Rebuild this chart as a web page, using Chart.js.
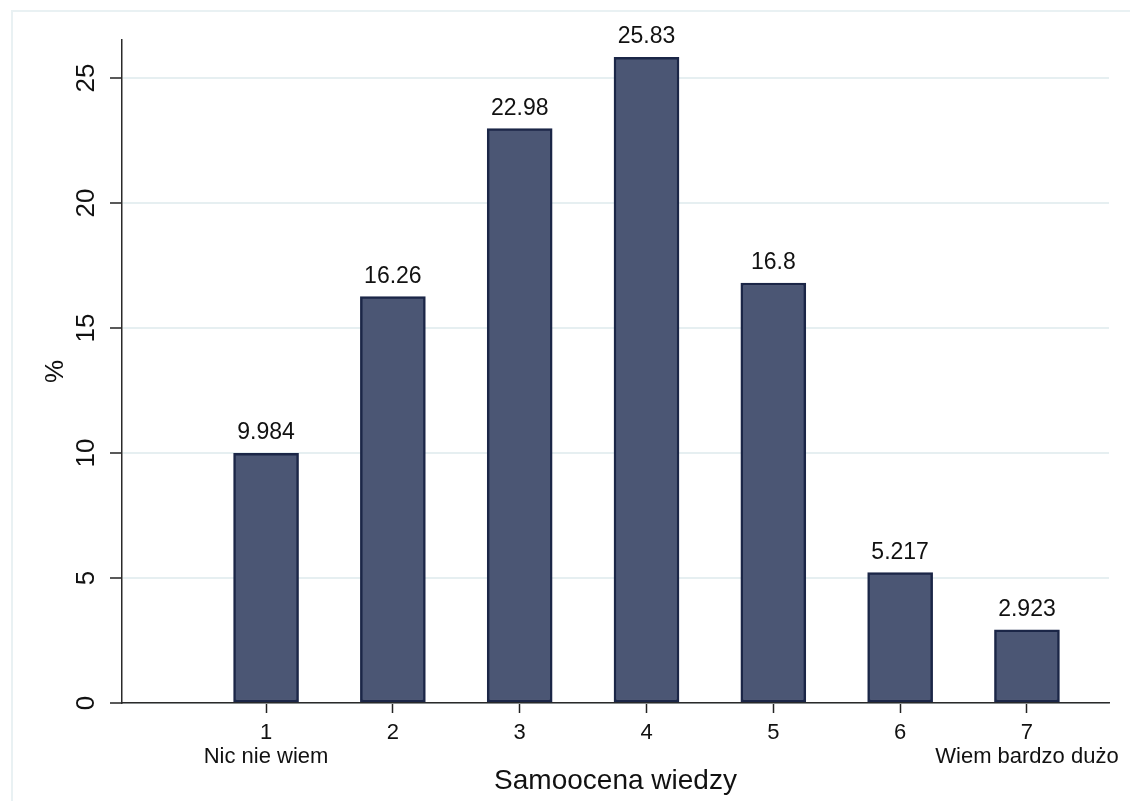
<!DOCTYPE html>
<html>
<head>
<meta charset="utf-8">
<script src="https://cdn.jsdelivr.net/npm/chart.js@4/dist/chart.umd.min.js"></script>
<style>
  html, body { margin: 0; padding: 0; background: #fff; overflow: hidden; }
  #wrap { position: relative; width: 1130px; height: 801px; }
  #frame { position: absolute; left: 11px; top: 10px; width: 1200px; height: 900px; border: 2px solid #e9f1f3; box-sizing: border-box; }
  canvas { position: absolute; left: 0; top: 0; }
</style>
</head>
<body>
<div id="wrap">
  <div id="frame"></div>
  <canvas id="chart" width="1130" height="801"></canvas>
</div>
<script>
// data
const categories = [1, 2, 3, 4, 5, 6, 7];
const percentages = [9.984, 16.26, 22.98, 25.83, 16.8, 5.217, 2.923];
const endLabels = ['Nic nie wiem', '', '', '', '', '', 'Wiem bardzo dużo'];
const yTicks = [0, 5, 10, 15, 20, 25];

const FONT = "'Liberation Sans', Arial, sans-serif";

// value labels above each bar
const valueLabels = {
  id: 'valueLabels',
  afterDatasetsDraw(chart) {
    const ctx = chart.ctx;
    const meta = chart.getDatasetMeta(0);
    ctx.save();
    ctx.font = '23px ' + FONT;
    ctx.fillStyle = '#111';
    ctx.textAlign = 'center';
    ctx.textBaseline = 'alphabetic';
    meta.data.forEach((bar, i) => {
      ctx.fillText(String(percentages[i]), bar.x, bar.y - 14);
    });
    ctx.restore();
  }
};

const ctx = document.getElementById('chart').getContext('2d');

new Chart(ctx, {
  type: 'bar',
  data: {
    datasets: [{
      data: categories.map((c, i) => ({ x: c, y: percentages[i] })),
      backgroundColor: '#4b5674',
      borderColor: '#1b2647',
      borderWidth: 2.5,
      borderSkipped: false,
      barThickness: 65
    }]
  },
  options: {
    responsive: false,
    animation: false,
    layout: { padding: { top: 40, right: 21, left: 0, bottom: 0 } },
    plugins: {
      legend: { display: false },
      tooltip: { enabled: false }
    },
    scales: {
      x: {
        type: 'linear',
        min: -0.136,
        max: 7.647,
        offset: false,
        afterBuildTicks: (scale) => {
          scale.ticks = categories.map(v => ({ value: v }));
        },
        afterFit: (scale) => { scale.height = 98; },
        grid: {
          offset: false,
          drawOnChartArea: false,
          drawTicks: true,
          tickLength: 10,
          tickColor: '#222',
          tickWidth: 1.5
        },
        border: { display: true, color: '#2a2a2a', width: 1.5 },
        ticks: {
          color: '#111',
          padding: 8,
          maxRotation: 0,
          autoSkip: false,
          font: { family: FONT, size: 22, lineHeight: 1.1 },
          callback: (value) => {
            const i = categories.indexOf(value);
            if (i < 0) return '';
            return endLabels[i] ? [String(value), endLabels[i]] : String(value);
          }
        },
        title: {
          display: true,
          text: 'Samoocena wiedzy',
          color: '#111',
          font: { family: FONT, size: 28 },
          padding: { top: 0, bottom: 3 }
        }
      },
      y: {
        min: 0,
        max: 26.52,
        afterBuildTicks: (scale) => {
          scale.ticks = yTicks.map(v => ({ value: v }));
        },
        afterFit: (scale) => { scale.width = 122; },
        grid: {
          color: '#e6eff1',
          lineWidth: 2,
          drawTicks: true,
          tickLength: 12,
          tickColor: '#222',
          tickWidth: 1.5
        },
        border: { display: true, color: '#2a2a2a', width: 1.5 },
        ticks: {
          color: '#111',
          minRotation: 90,
          maxRotation: 90,
          crossAlign: 'center',
          padding: 9,
          font: { family: FONT, size: 26 }
        },
        title: {
          display: true,
          text: '%',
          color: '#111',
          font: { family: FONT, size: 26 },
          padding: { top: 40, bottom: 0 }
        }
      }
    }
  },
  plugins: [valueLabels]
});
</script>
</body>
</html>
